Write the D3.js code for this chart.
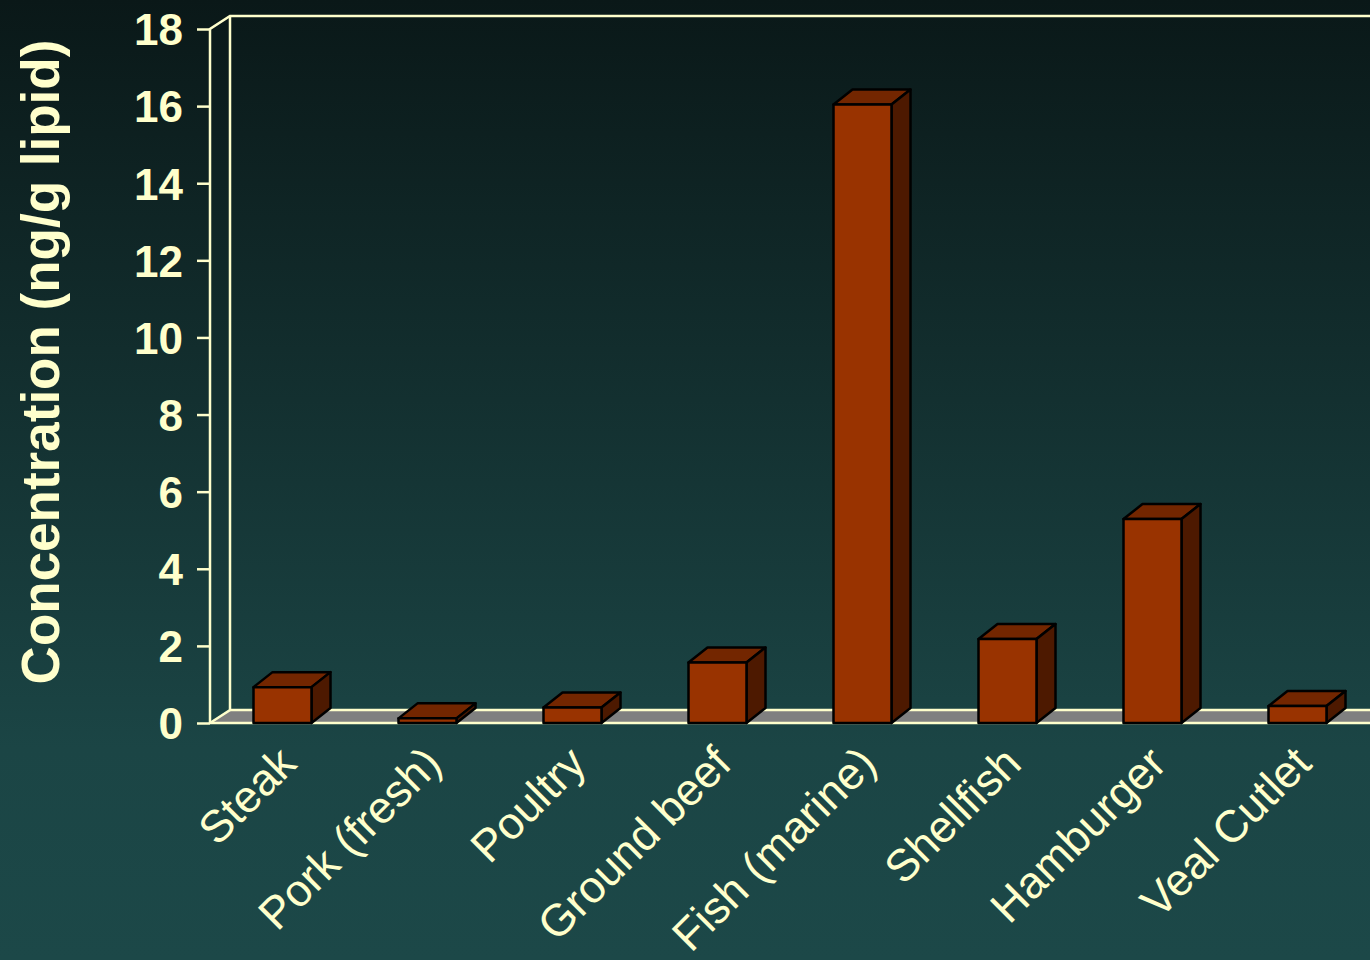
<!DOCTYPE html>
<html>
<head>
<meta charset="utf-8">
<script src="https://cdn.jsdelivr.net/npm/d3@7"></script>
<style>
  body { margin: 0; background: #1c4747; }
  svg { display: block; }
</style>
</head>
<body>
<div id="chart"></div>
<script>
var svgWidth = 1370;
var svgHeight = 960;

// data
var categories = ["Steak", "Pork (fresh)", "Poultry", "Ground beef", "Fish (marine)", "Shellfish", "Hamburger", "Veal Cutlet"];
var concentration = [0.93, 0.12, 0.40, 1.57, 16.04, 2.18, 5.29, 0.44];
var yTicks = [0, 2, 4, 6, 8, 10, 12, 14, 16, 18];

var cream = "#ffffcc";

var svg = d3.select("#chart")
    .append("svg")
    .attr("width", svgWidth)
    .attr("height", svgHeight);

// background gradient
var defs = svg.append("defs");
var grad = defs.append("linearGradient")
    .attr("id", "bg")
    .attr("x1", 0).attr("y1", 0).attr("x2", 0).attr("y2", 1);
grad.append("stop").attr("offset", "0%").attr("stop-color", "#0a1818");
grad.append("stop").attr("offset", "78%").attr("stop-color", "#1b4545");
grad.append("stop").attr("offset", "100%").attr("stop-color", "#1c4848");

svg.append("rect")
    .attr("width", svgWidth)
    .attr("height", svgHeight)
    .attr("fill", "url(#bg)");

//Create scale functions
var xBandScale = d3.scaleBand()
    .domain(categories)
    .range([210, 1370])
    .paddingInner(0.6)
    .paddingOuter(0.3);

var yLinearScale = d3.scaleLinear()
    .domain([0, 18])
    .range([723, 29]);

var wallDx = 20, wallDy = -13;
var barDx = 19, barDy = -15;

var x0 = 210;
var yBottom = yLinearScale(0);
var yTop = yLinearScale(18);

// floor
svg.append("path")
    .attr("d", `M${x0},${yBottom} L${x0 + wallDx},${yBottom + wallDy} L1370,${yBottom + wallDy} L1370,${yBottom} Z`)
    .attr("fill", "#808080");
svg.append("line")
    .attr("x1", x0 + wallDx).attr("x2", 1370)
    .attr("y1", yBottom + wallDy).attr("y2", yBottom + wallDy)
    .attr("stroke", cream).attr("stroke-width", 2.5);
svg.append("line")
    .attr("x1", x0).attr("x2", 1370)
    .attr("y1", yBottom).attr("y2", yBottom)
    .attr("stroke", cream).attr("stroke-width", 2.5);

// walls
svg.append("path")
    .attr("d", `M${x0},${yBottom} L${x0},${yTop} L${x0 + wallDx},${yTop + wallDy} L1370,${yTop + wallDy}`)
    .attr("fill", "none").attr("stroke", cream).attr("stroke-width", 2.5);
svg.append("path")
    .attr("d", `M${x0},${yBottom} L${x0 + wallDx},${yBottom + wallDy} L${x0 + wallDx},${yTop + wallDy}`)
    .attr("fill", "none").attr("stroke", cream).attr("stroke-width", 2.5);

// y axis
var leftAxis = d3.axisLeft(yLinearScale)
    .tickValues(yTicks)
    .tickSize(13)
    .tickPadding(14)
    .tickFormat(d3.format("d"));

var axisG = svg.append("g")
    .attr("transform", `translate(${x0}, 0)`)
    .call(leftAxis);
axisG.select(".domain").remove();
axisG.selectAll(".tick line").attr("stroke", cream).attr("stroke-width", 2.5);
axisG.selectAll(".tick text")
    .attr("fill", cream)
    .attr("font-family", "Liberation Sans, Arial, sans-serif")
    .attr("font-weight", "bold")
    .attr("font-size", 44)
    .attr("dy", "0.36em");

// bars
var bars = svg.append("g").selectAll("g")
    .data(categories.map((c, i) => ({ cat: c, value: concentration[i] })))
    .enter()
    .append("g");

bars.append("path") // top
    .attr("d", d => {
        var x = xBandScale(d.cat), w = xBandScale.bandwidth(), y = yLinearScale(d.value);
        return `M${x},${y} L${x + barDx},${y + barDy} L${x + w + barDx},${y + barDy} L${x + w},${y} Z`;
    })
    .attr("fill", "#732600");

bars.append("path") // side
    .attr("d", d => {
        var x = xBandScale(d.cat) + xBandScale.bandwidth(), y = yLinearScale(d.value);
        return `M${x},${y} L${x + barDx},${y + barDy} L${x + barDx},${yBottom + barDy} L${x},${yBottom} Z`;
    })
    .attr("fill", "#4d1900");

bars.append("rect") // front
    .attr("x", d => xBandScale(d.cat))
    .attr("y", d => yLinearScale(d.value))
    .attr("width", xBandScale.bandwidth())
    .attr("height", d => yBottom - yLinearScale(d.value))
    .attr("fill", "#993300");

bars.selectAll("path, rect")
    .attr("stroke", "#000")
    .attr("stroke-width", 2.5)
    .attr("stroke-linejoin", "round");

// category labels
svg.append("g").selectAll("text")
    .data(categories)
    .enter()
    .append("text")
    .attr("transform", d => `translate(${xBandScale(d) + xBandScale.bandwidth() / 2 + 16}, 766) rotate(-45)`)
    .attr("text-anchor", "end")
    .attr("fill", cream)
    .attr("font-family", "Liberation Sans, Arial, sans-serif")
    .attr("font-size", 45)
    .text(d => d);

// axis title
svg.append("text")
    .attr("transform", "translate(59, 362) rotate(-90)")
    .attr("text-anchor", "middle")
    .attr("fill", cream)
    .attr("font-family", "Liberation Sans, Arial, sans-serif")
    .attr("font-weight", "bold")
    .attr("font-size", 53)
    .text("Concentration (ng/g lipid)");
</script>
</body>
</html>
